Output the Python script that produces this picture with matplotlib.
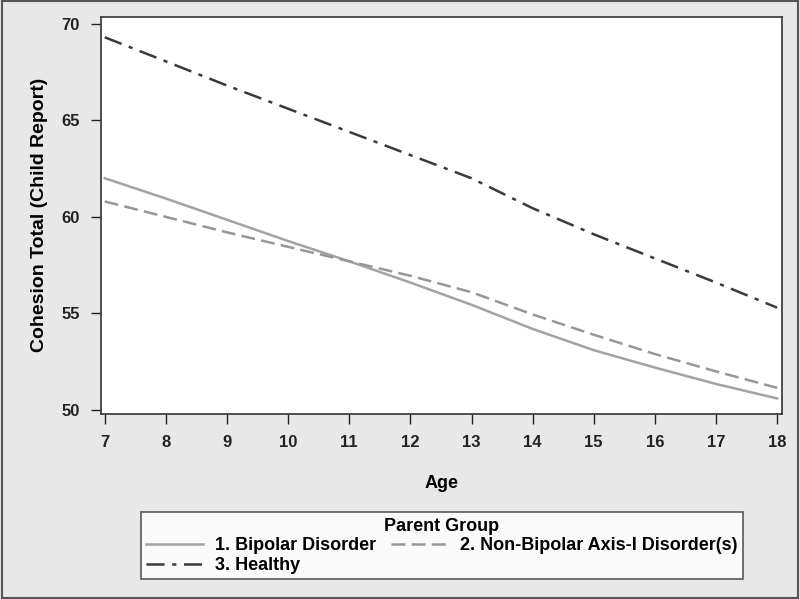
import matplotlib
matplotlib.use('Agg')
import matplotlib.pyplot as plt
from matplotlib.patches import Rectangle

plt.rcParams['font.family'] = ['Liberation Sans', 'DejaVu Sans']
plt.rcParams['lines.scale_dashes'] = False

ages = [7, 8, 9, 10, 11, 12, 13, 14, 15, 16, 17, 18]
bipolar = [62.0, 60.95, 59.85, 58.75, 57.7, 56.6, 55.45, 54.2, 53.1, 52.2, 51.35, 50.6]
non_bipolar = [60.8, 60.0, 59.2, 58.45, 57.7, 56.95, 56.1, 54.95, 53.9, 52.9, 52.0, 51.15]
healthy = [69.3, 68.05, 66.8, 65.6, 64.4, 63.2, 62.0, 60.45, 59.1, 57.85, 56.6, 55.3]

labels = ['1. Bipolar Disorder', '2. Non-Bipolar Axis-I Disorder(s)', '3. Healthy']

fig = plt.figure(figsize=(8, 5.99), dpi=100, facecolor='#e8e8e8')
ax = fig.add_axes([0.126, 0.309, 0.8515, 0.663])
ax.set_facecolor('white')

l1, = ax.plot(ages, bipolar, color='#a3a3a3', lw=1.8, label=labels[0])
l2, = ax.plot(ages, non_bipolar, color='#979797', lw=1.8, dashes=(10, 4.5), label=labels[1])
l3, = ax.plot(ages, healthy, color='#3a3a3a', lw=1.8, dashes=(13, 5.5, 3, 5.5), label=labels[2])

ax.set_xlim(6.935, 18.08)
ax.set_ylim(49.8, 70.36)
ax.set_xticks(ages)
ax.set_yticks([50, 55, 60, 65, 70])
ax.tick_params(direction='out', length=7, width=1, colors='#222222', labelsize=12, pad=8)
for t in ax.get_xticklabels() + ax.get_yticklabels():
    t.set_fontweight('bold')
for s in ax.spines.values():
    s.set_color('#333333')
    s.set_linewidth(1.2)

ax.set_xlabel('Age', fontsize=13, fontweight='bold', labelpad=18)
ax.set_ylabel('Cohesion Total (Child Report)', fontsize=14, fontweight='bold', labelpad=10)

leg = fig.legend([l1, l3, l2], [labels[0], labels[2], labels[1]], ncol=2,
                 loc='upper center', bbox_to_anchor=(0.5525, 0.145), borderaxespad=0,
                 title='Parent Group', frameon=True, fancybox=False,
                 handlelength=3.15, columnspacing=0.85, handletextpad=0.65,
                 labelspacing=0.15, borderpad=0.3,
                 prop={'size': 13, 'weight': 'bold'},
                 title_fontproperties={'size': 13, 'weight': 'bold'})
leg.get_frame().set_edgecolor('#333333')
leg.get_frame().set_linewidth(1.2)

fig.patches.append(Rectangle((0.002, 0.002), 0.996, 0.996, transform=fig.transFigure,
                             fill=False, edgecolor='#555555', linewidth=1.5))

fig.savefig('out.png', dpi=100, facecolor=fig.get_facecolor())
